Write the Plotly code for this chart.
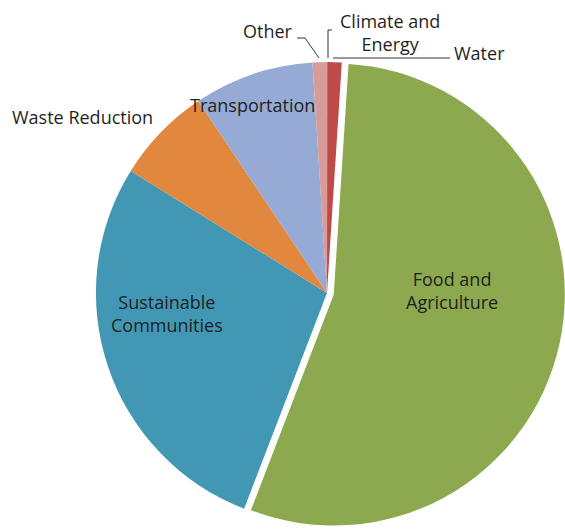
import plotly.graph_objects as go

W, H = 565, 531

categories = ["Climate and Energy", "Water", "Food and Agriculture",
              "Sustainable Communities", "Waste Reduction", "Transportation", "Other"]
values = [0.02, 1.0, 54.8, 28.0, 6.75, 8.4, 1.0]
colors = ["#4F81BD", "#BE4B48", "#8CA94F", "#4298B4", "#E2873E", "#96AAD6", "#D79B99"]
pulls = [0, 0, 0.03, 0, 0, 0, 0]

def px(x):
    return x / W

def py(y):
    return 1 - y / H

fig = go.Figure(go.Pie(
    labels=categories,
    values=values,
    sort=False,
    direction="clockwise",
    rotation=0,
    pull=pulls,
    marker=dict(colors=colors, line=dict(width=0)),
    textinfo="none",
    hoverinfo="label+percent",
    showlegend=False,
    domain=dict(x=[89 / W, 1.0], y=[0, 1 - 55 / H]),
))

font = dict(family="Open Sans, Noto Sans, sans-serif", size=18, color="#1f1f1f")

# label text positions (pixel coords) for each category
label_pos = {
    "Other": ("Other", 268, 31),
    "Climate and Energy": ("Climate and<br>Energy", 390, 33),
    "Water": ("Water", 479, 53),
    "Waste Reduction": ("Waste Reduction", 82, 117),
    "Transportation": ("Transportation", 252, 105),
    "Sustainable Communities": ("Sustainable<br>Communities", 167, 313),
    "Food and Agriculture": ("Food and<br>Agriculture", 452, 290),
}
annotations = []
for cat in categories:
    txt, x, y = label_pos[cat]
    annotations.append(dict(text=txt, x=px(x), y=py(y), xref="paper", yref="paper",
                            showarrow=False, font=font, xanchor="center", yanchor="middle",
                            align="center"))

# leader lines (pixel coords)
leaders = [
    [(297, 38), (305, 38), (319, 58)],   # Other
    [(332, 30), (328, 30), (328, 58)],   # Climate and Energy
    [(333, 58), (450, 58)],              # Water
]
shapes = []
for pts in leaders:
    path = "M " + " L ".join(f"{px(a)},{py(b)}" for a, b in pts)
    shapes.append(dict(type="path", path=path, xref="paper", yref="paper",
                       line=dict(color="#333333", width=1)))

fig.update_layout(
    width=W, height=H,
    margin=dict(l=0, r=0, t=0, b=0),
    paper_bgcolor="white",
    plot_bgcolor="white",
    annotations=annotations,
    shapes=shapes,
)

fig.write_html("out.html")
